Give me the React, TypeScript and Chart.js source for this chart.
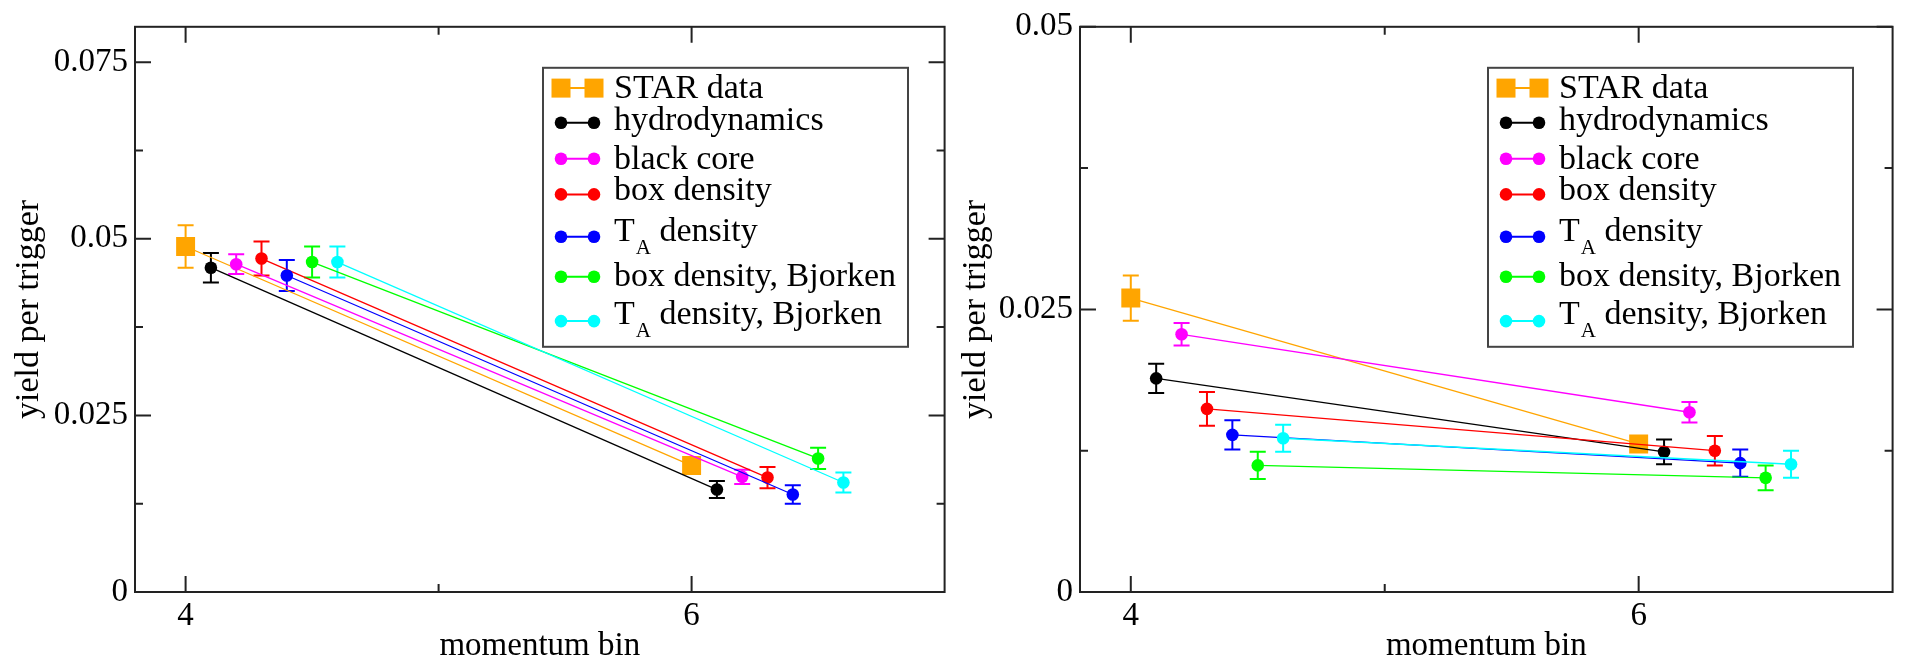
import React, { useEffect, useRef } from 'react';
import { Chart, registerables } from 'chart.js';

Chart.register(...registerables);

const seriesLabels = [
  'STAR data',
  'hydrodynamics',
  'black core',
  'box density',
  'T_A density',
  'box density, Bjorken',
  'T_A density, Bjorken',
];
const seriesColors = ['#ffa500', '#000000', '#ff00ff', '#ff0000', '#0000ff', '#00ff00', '#00ffff'];
// every model is moved 0.1 to the right so the points do not overlap
const seriesBins = [
  [4, 6], [4.1, 6.1], [4.2, 6.2], [4.3, 6.3], [4.4, 6.4], [4.5, 6.5], [4.6, 6.6],
];

const leftYield = [
  [0.0489, 0.0179], [0.0459, 0.0145], [0.0464, 0.0163], [0.0472, 0.0162],
  [0.0448, 0.0138], [0.0467, 0.0189], [0.0467, 0.0155],
];
const leftError = [
  [0.003, 0.0009], [0.0021, 0.0012], [0.0014, 0.001], [0.0024, 0.0015],
  [0.0022, 0.0013], [0.0022, 0.0015], [0.0022, 0.0014],
];
const rightYield = [
  [0.026, 0.0131], [0.0189, 0.0124], [0.0228, 0.0159], [0.0162, 0.0125],
  [0.0139, 0.0114], [0.0112, 0.0101], [0.0136, 0.0113],
];
const rightError = [
  [0.002, 0.0007], [0.0013, 0.0011], [0.001, 0.0009], [0.0015, 0.0013],
  [0.0013, 0.0012], [0.0012, 0.0011], [0.0012, 0.0012],
];

const xMajor = [4, 6];
const xMinor = [5];
const leftYMajor = [0, 0.025, 0.05, 0.075];
const leftYMinor = [0.0125, 0.0375, 0.0625];
const rightYMajor = [0, 0.025, 0.05];
const rightYMinor = [0.0125, 0.0375];

const FONT = "'Liberation Serif', 'Times New Roman', serif";

// legend rows (offsets from the legend box top), grace puts the TA rows a bit lower
const legendBaselines = [30, 62.3, 101.3, 132.3, 173.3, 218.3, 256.3];
const legendSymbolY = [20.3, 55, 91, 126.6, 169, 209, 253.3];

const errorBarPlugin = {
  id: 'errorBars',
  beforeDatasetsDraw(chart: any) {
    const { ctx, scales: { x, y } } = chart;
    ctx.save();
    ctx.lineWidth = 2;
    chart.data.datasets.forEach((ds: any) => {
      ctx.strokeStyle = ds.borderColor;
      ds.data.forEach((p: any, j: number) => {
        const px = x.getPixelForValue(p.x);
        const top = y.getPixelForValue(p.y + ds.errors[j]);
        const bot = y.getPixelForValue(p.y - ds.errors[j]);
        ctx.beginPath();
        ctx.moveTo(px, top);
        ctx.lineTo(px, bot);
        ctx.moveTo(px - 8, top);
        ctx.lineTo(px + 8, top);
        ctx.moveTo(px - 8, bot);
        ctx.lineTo(px + 8, bot);
        ctx.stroke();
      });
    });
    ctx.restore();
  },
};

const framePlugin = {
  id: 'frame',
  afterDatasetsDraw(chart: any, _args: any, opts: any) {
    const { ctx, chartArea: a, scales: { x, y } } = chart;
    ctx.save();
    ctx.strokeStyle = '#222';
    ctx.lineWidth = 2;
    ctx.beginPath();
    const tickX = (v: number, len: number) => {
      const p = x.getPixelForValue(v);
      ctx.moveTo(p, a.bottom);
      ctx.lineTo(p, a.bottom - len);
      ctx.moveTo(p, a.top);
      ctx.lineTo(p, a.top + len);
    };
    const tickY = (v: number, len: number) => {
      const p = y.getPixelForValue(v);
      ctx.moveTo(a.left, p);
      ctx.lineTo(a.left + len, p);
      ctx.moveTo(a.right, p);
      ctx.lineTo(a.right - len, p);
    };
    xMajor.forEach((v) => tickX(v, 16));
    xMinor.forEach((v) => tickX(v, 8));
    opts.yMajor.forEach((v: number) => tickY(v, 16));
    opts.yMinor.forEach((v: number) => tickY(v, 8));
    ctx.stroke();
    ctx.strokeRect(a.left, a.top, a.right - a.left, a.bottom - a.top);
    ctx.restore();
  },
};

const legendPlugin = {
  id: 'boxLegend',
  afterDraw(chart: any) {
    const { ctx, chartArea: a } = chart;
    const left = a.left + 408;
    const top = a.top + 41;
    ctx.save();
    ctx.fillStyle = '#fff';
    ctx.fillRect(left, top, 365, 279);
    ctx.strokeStyle = '#444';
    ctx.lineWidth = 2;
    ctx.strokeRect(left, top, 365, 279);

    chart.data.datasets.forEach((ds: any, i: number) => {
      const sy = top + legendSymbolY[i];
      const x1 = left + 18;
      const x2 = left + 51;
      ctx.strokeStyle = ds.borderColor;
      ctx.fillStyle = ds.borderColor;
      ctx.lineWidth = 2;
      ctx.beginPath();
      ctx.moveTo(x1, sy);
      ctx.lineTo(x2, sy);
      ctx.stroke();
      [x1, x2].forEach((sx) => {
        if (ds.pointStyle === 'rect') {
          ctx.fillRect(sx - 9.5, sy - 9.5, 19, 19);
        } else {
          ctx.beginPath();
          ctx.arc(sx, sy, 6.3, 0, Math.PI * 2);
          ctx.fill();
        }
      });

      // "T_A" -> T with a subscript A
      const by = top + legendBaselines[i];
      let tx = left + 71;
      ctx.fillStyle = '#000';
      ctx.textBaseline = 'alphabetic';
      ctx.textAlign = 'left';
      const m = ds.label.match(/^(.*)_(.)(.*)$/);
      const main = m ? m[1] : ds.label;
      ctx.font = `34px ${FONT}`;
      ctx.fillText(main, tx, by);
      if (m) {
        tx += ctx.measureText(main).width + 1;
        ctx.font = `21px ${FONT}`;
        ctx.fillText(m[2], tx, by + 13);
        tx += ctx.measureText(m[2]).width;
        ctx.font = `34px ${FONT}`;
        ctx.fillText(m[3], tx, by);
      }
    });
    ctx.restore();
  },
};

interface PanelProps {
  yields: number[][];
  errors: number[][];
  yMax: number;
  yMajor: number[];
  yMinor: number[];
  left: number;
  width: number;
  axisWidth: number;
  titlePad: number;
  padRight: number;
}

const Panel: React.FC<PanelProps> = ({ yields, errors, yMax, yMajor, yMinor, left, width, axisWidth, titlePad, padRight }) => {
  const canvasRef = useRef<HTMLCanvasElement>(null);

  useEffect(() => {
    if (!canvasRef.current) return;
    const datasets = seriesLabels.map((label, i) => ({
      label,
      data: seriesBins[i].map((x, j) => ({ x, y: yields[i][j] })),
      errors: errors[i],
      showLine: true,
      borderColor: seriesColors[i],
      backgroundColor: seriesColors[i],
      borderWidth: 1.3,
      pointStyle: i === 0 ? 'rect' : 'circle',
      pointRadius: i === 0 ? 13.4 : 6.3,
      pointBorderWidth: 0,
      order: -i,
    }));

    const chart = new Chart(canvasRef.current, {
      type: 'scatter',
      data: { datasets } as any,
      options: {
        responsive: false,
        animation: false,
        layout: { padding: { left: 0, top: 21, right: padRight, bottom: 0 } },
        plugins: {
          legend: { display: false },
          tooltip: { enabled: false },
          frame: { yMajor, yMinor },
        } as any,
        scales: {
          x: {
            type: 'linear',
            min: 3.8,
            max: 7,
            afterBuildTicks: (s: any) => {
              s.ticks = xMajor.map((v) => ({ value: v }));
            },
            afterFit: (s: any) => {
              s.height = 70;
            },
            grid: { display: false, drawTicks: false },
            border: { display: false },
            ticks: {
              color: '#000',
              font: { family: FONT, size: 33 },
              padding: 5,
              maxRotation: 0,
              autoSkip: false,
              callback: (v: any) => String(v),
            },
            title: {
              display: true,
              text: 'momentum bin',
              color: '#000',
              font: { family: FONT, size: 33, lineHeight: 1 },
              padding: { top: 0, bottom: -1 },
            },
          },
          y: {
            type: 'linear',
            min: 0,
            max: yMax,
            afterBuildTicks: (s: any) => {
              s.ticks = yMajor.map((v) => ({ value: v }));
            },
            afterFit: (s: any) => {
              s.width = axisWidth;
            },
            grid: { display: false, drawTicks: false },
            border: { display: false },
            ticks: {
              color: '#000',
              font: { family: FONT, size: 33 },
              padding: 7,
              autoSkip: false,
              callback: (v: any) => String(v),
            },
            title: {
              display: true,
              text: 'yield per trigger',
              color: '#000',
              font: { family: FONT, size: 34, lineHeight: 1 },
              padding: { top: titlePad, bottom: 0 },
            },
          },
        },
      },
      plugins: [errorBarPlugin, framePlugin, legendPlugin],
    });

    return () => {
      chart.destroy();
    };
  }, [yields, errors, yMax, yMajor, yMinor, axisWidth, titlePad, padRight]);

  return (
    <canvas
      ref={canvasRef}
      width={width}
      height={662}
      style={{ position: 'absolute', left, top: 0, width, height: 662 }}
    />
  );
};

export default function App() {
  return (
    <div style={{ position: 'fixed', left: 0, top: 0, width: 1906, height: 662, background: '#fff' }}>
      <Panel
        yields={leftYield}
        errors={leftError}
        yMax={0.08}
        yMajor={leftYMajor}
        yMinor={leftYMinor}
        left={0}
        width={958}
        axisWidth={135}
        titlePad={12}
        padRight={5}
      />
      <Panel
        yields={rightYield}
        errors={rightError}
        yMax={0.05}
        yMajor={rightYMajor}
        yMinor={rightYMinor}
        left={958}
        width={948}
        axisWidth={122}
        titlePad={1.5}
        padRight={8}
      />
    </div>
  );
}
